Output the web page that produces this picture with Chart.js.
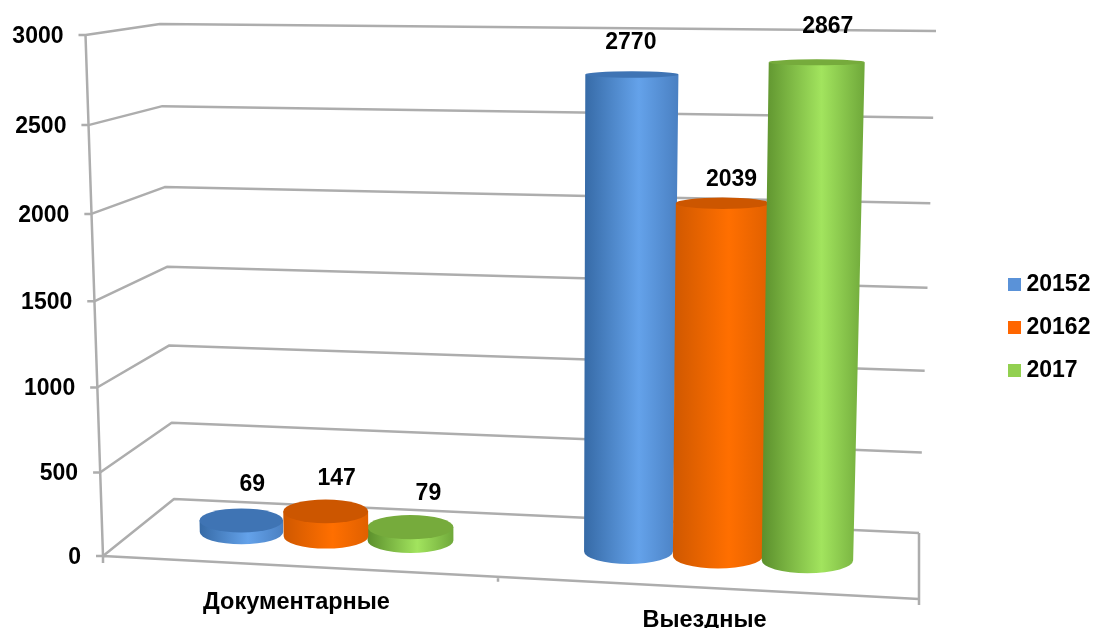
<!DOCTYPE html>
<html>
<head>
<meta charset="utf-8">
<style>html,body{margin:0;padding:0;background:#fff}canvas{display:block}</style>
<script src="https://cdn.jsdelivr.net/npm/chart.js@4"></script>
</head>
<body>
<canvas id="c" width="1094" height="628"></canvas>
<script>
const categories = ['Документарные', 'Выездные'];
const seriesNames = ['20152', '20162', '2017'];
const values2015 = [69, 2770];
const values2016 = [147, 2039];
const values2017 = [79, 2867];
const yMax = 3000;
const yStep = 500;

const legendColors = ['#5a92d8', '#ff6600', '#92d050'];
const palette = [
  {edgeL:'#366aa6', mid:'#64a2ea', edgeR:'#4a80c2', top:'#3f74b4'},
  {edgeL:'#cf5800', mid:'#ff6f00', edgeR:'#e06000', top:'#cc5600'},
  {edgeL:'#5b8f2c', mid:'#a2e45e', edgeR:'#6fa83a', top:'#76ab3c'}
];
const FONT = {family:'"Liberation Sans", Arial, sans-serif', size:23, weight:'bold', lineHeight:1};
const LAB_FONT = 'bold 23px "Liberation Sans", Arial, sans-serif';
const GRID = '#adadad';
const labelNudge = [[[11,-24],[-1,-29]],[[11,-21],[9,-18]],[[18,-21],[11,-33]]];

function warp(scale, v){
  const b = scale.bottom, h = scale.bottom - scale.top;
  const t = (b - scale.getPixelForValue(v)) / h;
  return b - (t - 0.045*t*(1-t)) * h;
}
function lerp(a,b,t){return a+(b-a)*t;}

const scene = {
  id:'scene',
  afterLayout(chart){
    const lg = chart.legend;
    const w = lg.right-lg.left, h = lg.bottom-lg.top;
    lg.left = 1014 - 20; lg.right = lg.left + w;
    lg.top = 273 - 20; lg.bottom = lg.top + h;
  },
  beforeDraw(chart){
    const {x:xs, y:ys} = chart.scales;
    const a = chart.chartArea;
    xs.getLabelItems(a).forEach(it=>{
      const p = it.options.translation;
      if(!it._moved){ p[1] += (p[0]-a.left)*0.044 - 0.5; p[0] -= 10.5; it._moved = true; }
    });
    ys.getLabelItems(a).forEach((it,i)=>{
      const v = ys.ticks[i].value;
      const t = v/yMax;
      const p = it.options.translation;
      if(!it._moved){ p[0] -= 17.5*t; p[1] = warp(ys,v)+1.5; it._moved = true; }
    });
    // walls and floor
    const ctx = chart.ctx;
    ctx.save();
    ctx.strokeStyle = GRID; ctx.lineWidth = 2.5; ctx.lineJoin='round';
    ys.ticks.forEach(tk=>{
      const t = tk.value/yMax, y = warp(ys,tk.value);
      const fx = a.left - 17.5*t;
      const bx = lerp(174,160,t);
      const rx = lerp(919,936,t);
      const w = (b0,b1)=>b0-(t-0.045*t*(1-t))*(b0-b1);
      ctx.beginPath();
      ctx.moveTo(fx-7,y); ctx.lineTo(fx,y);
      ctx.lineTo(bx,w(499,24)); ctx.lineTo(rx,w(533,31));
      ctx.stroke();
    });
    const slope = (599-a.bottom)/(a.right-a.left);
    ctx.beginPath();
    ctx.moveTo(a.left-17.5,warp(ys,yMax)); ctx.lineTo(a.left,a.bottom);
    ctx.lineTo(a.left,a.bottom+7);
    ctx.moveTo(a.left,a.bottom); ctx.lineTo(a.right,a.bottom+slope*(a.right-a.left));
    ctx.lineTo(a.right,a.bottom+slope*(a.right-a.left)+6);
    ctx.moveTo(a.right,a.bottom+slope*(a.right-a.left)); ctx.lineTo(a.right,533);
    const mid = (a.left+a.right)/2 - 13;
    ctx.moveTo(mid,a.bottom+slope*(mid-a.left)); ctx.lineTo(mid,a.bottom+slope*(mid-a.left)+5);
    ctx.stroke();
    ctx.restore();
  },
  beforeDatasetDraw(){ return false; },
  afterDatasetsDraw(chart){
    const ctx = chart.ctx;
    const xs = chart.scales.x;
    const orders = [[0,2,1],[0,1,2]];
    const spreads = [0.956,1.012];
    const geo = [];
    orders.forEach((ord,c)=>ord.forEach(s=>{
      const el = chart.getDatasetMeta(s).data[c];
      const cx = xs.getPixelForValue(c);
      const xf = 326 + (cx-xs.getPixelForValue(0))*0.9607 + (el.x-cx)*spreads[c];
      const by = 520 + 0.05*xf;
      const h = (el.base - el.y)*(0.96 + xf*5e-5);
      const tx = xf + h*(xf-520)*6.5e-5;
      const ty = by - h;
      const f = 0.905 + xf*0.00016;
      const rb = el.width/2*f, rt = rb*(1+0.05*h/500);
      const ryOf = y=>3+(y-60)*0.0195;
      const rby = ryOf(by), rty = ryOf(ty);
      const col = palette[s];
      const g = ctx.createLinearGradient(Math.min(xf-rb,tx-rt),0,Math.max(xf+rb,tx+rt),0);
      g.addColorStop(0,col.edgeL); g.addColorStop(0.58,col.mid); g.addColorStop(1,col.edgeR);
      ctx.save();
      ctx.beginPath();
      ctx.moveTo(tx-rt,ty);
      ctx.lineTo(xf-rb,by);
      ctx.ellipse(xf,by,rb,rby,0,Math.PI,0,true);
      ctx.lineTo(tx+rt,ty);
      ctx.closePath();
      ctx.fillStyle = g; ctx.fill();
      ctx.beginPath();
      ctx.ellipse(tx,ty,rt,rty,0,0,Math.PI*2);
      ctx.fillStyle = col.top; ctx.fill();
      ctx.restore();
      geo.push({s,c,tx,top:ty-rty,v:chart.data.datasets[s].data[c]});
    }));
    ctx.save();
    ctx.font = LAB_FONT; ctx.fillStyle='#000'; ctx.textAlign='center'; ctx.textBaseline='middle';
    geo.forEach(g=>{
      const n = labelNudge[g.s][g.c];
      ctx.fillText(String(g.v), g.tx+n[0], g.top+n[1]);
    });
    ctx.restore();
  }
};

new Chart(document.getElementById('c'),{
  type:'bar',
  data:{
    labels:categories,
    datasets:[
      {label:seriesNames[0],data:values2015,backgroundColor:legendColors[0]},
      {label:seriesNames[1],data:values2016,backgroundColor:legendColors[1]},
      {label:seriesNames[2],data:values2017,backgroundColor:legendColors[2]}
    ]
  },
  options:{
    responsive:false,animation:false,
    layout:{padding:{top:35,right:175,left:0,bottom:0}},
    categoryPercentage:0.65,barPercentage:1,
    scales:{
      x:{
        grid:{display:false},border:{display:false},
        ticks:{color:'#000',font:{...FONT,size:23.5},padding:18,maxRotation:0,autoSkip:false},
        afterFit(s){s.height=72;}
      },
      y:{
        min:0,max:yMax,
        grid:{display:false},border:{display:false},
        ticks:{color:'#000',font:FONT,padding:14,stepSize:yStep,autoSkip:false,callback:v=>String(v)},
        afterFit(s){s.width=103;}
      }
    },
    plugins:{
      tooltip:{enabled:false},
      legend:{
        position:'chartArea',align:'start',
        labels:{
          font:FONT,color:'#000',boxWidth:1,boxHeight:1,padding:20,
          generateLabels(chart){
            return chart.data.datasets.map((d,i)=>({
              text:d.label,fillStyle:d.backgroundColor,strokeStyle:d.backgroundColor,
              lineWidth:12,datasetIndex:i,hidden:false
            }));
          }
        }
      }
    }
  },
  plugins:[scene]
});
</script>
</body>
</html>
